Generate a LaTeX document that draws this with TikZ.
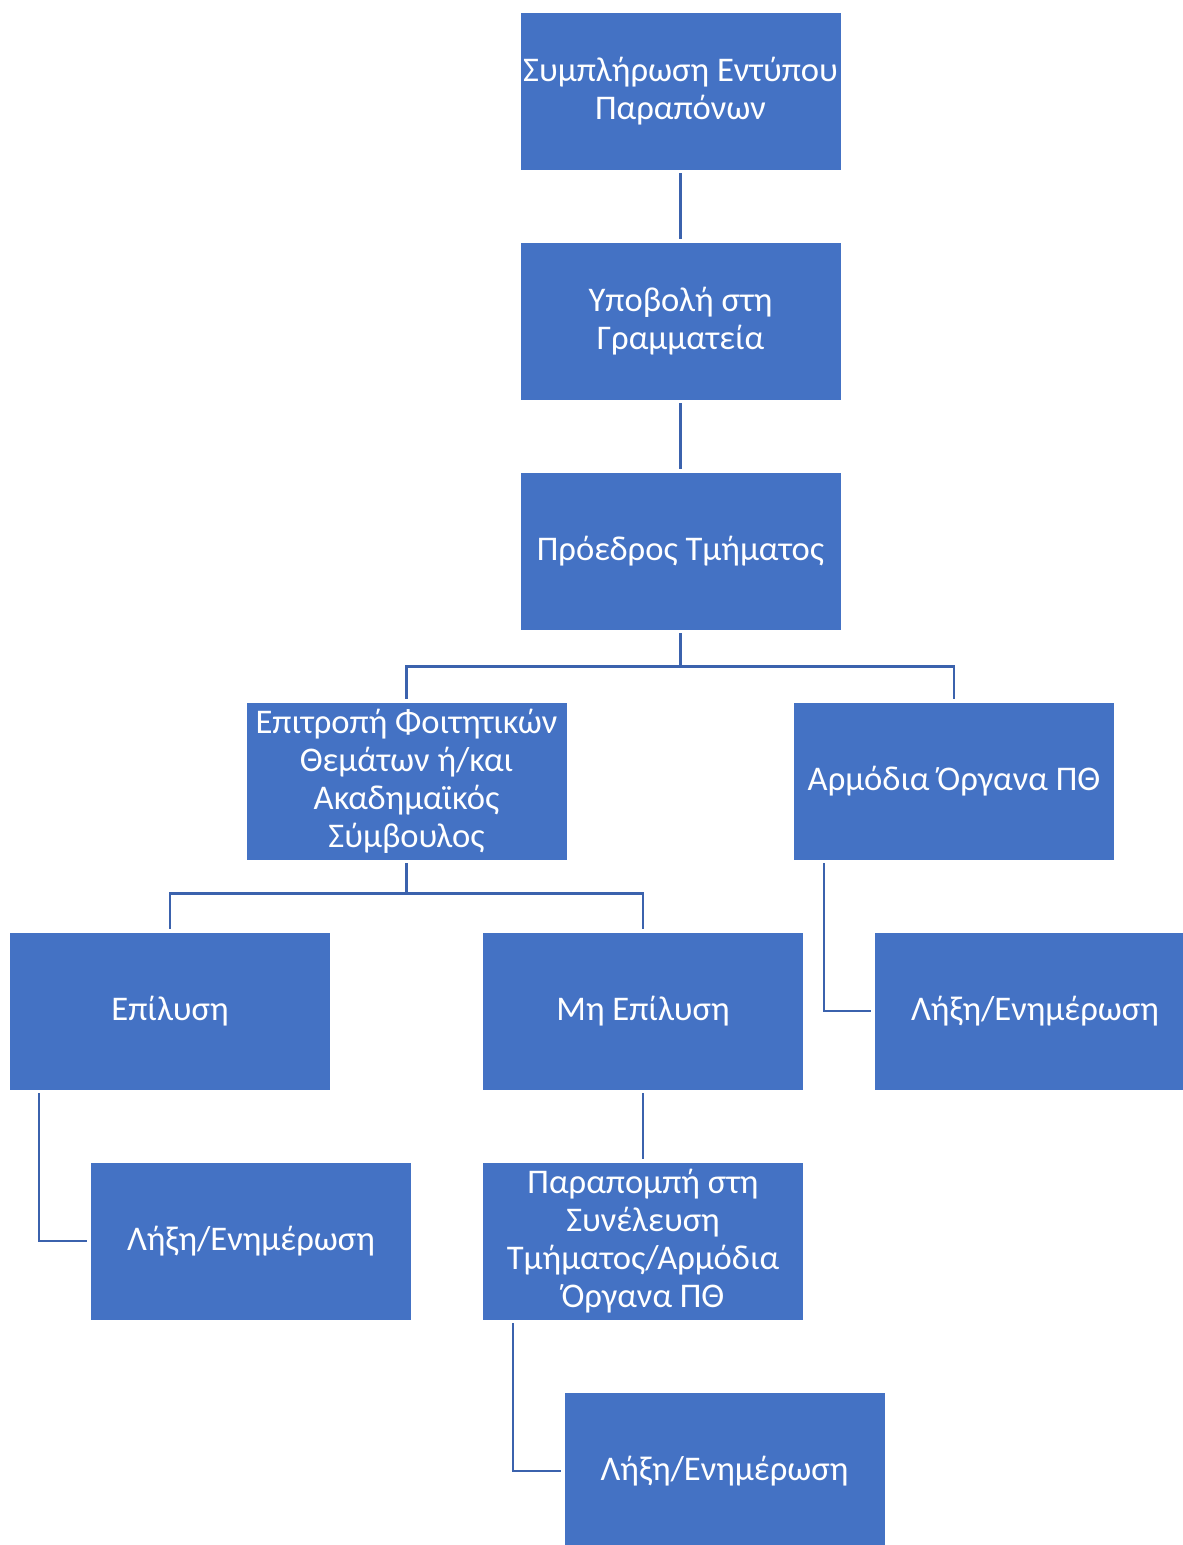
\documentclass[tikz,border=0pt]{standalone}
\usepackage{fontspec}
\setmainfont{Carlito}
\usetikzlibrary{calc}
\definecolor{boxblue}{HTML}{4472C4}
\definecolor{linkblue}{HTML}{3B62AD}
\tikzset{
  stepbox/.style={draw=white, line width=0.4pt, fill=boxblue, text=white,
    minimum width=160.5pt, minimum height=79pt, inner sep=0pt, align=center,
    font=\fontsize{17.3}{19}\selectfont},
  link/.style={draw=linkblue, line width=1.3pt, shorten <=1.5pt, shorten >=1.5pt}
}
\begin{document}
\begin{tikzpicture}[x=0.5pt,y=-0.5pt]
    \useasboundingbox (0,0) rectangle (1182,1545);
    \node[stepbox] (form) at (680.5,91)
      {Συμπλήρωση Εντύπου\\Παραπόνων};
    \node[stepbox] (submit) at (680.5,321)
      {Υποβολή στη\\Γραμματεία};
    \node[stepbox] (head) at (680.5,551)
      {Πρόεδρος Τμήματος};
    \node[stepbox] (comm) at (406.5,781)
      {Επιτροπή Φοιτητικών\\Θεμάτων ή/και\\Ακαδημαϊκός\\Σύμβουλος};
    \node[stepbox] (organs) at (954,781)
      {Αρμόδια Όργανα ΠΘ};
    \node[stepbox] (solved) at (170,1011)
      {Επίλυση};
    \node[stepbox] (unsolved) at (643,1011)
      {Μη Επίλυση};
    \node[stepbox] (endA) at (1035,1011)
      {Λήξη/Ενημέρωση};
    \node[stepbox] (endB) at (251,1241)
      {Λήξη/Ενημέρωση};
    \node[stepbox] (refer) at (643,1241)
      {Παραπομπή στη\\Συνέλευση\\Τμήματος/Αρμόδια\\Όργανα ΠΘ};
    \node[stepbox] (endC) at (724.5,1471)
      {Λήξη/Ενημέρωση};

    \draw[link] (form) -- (submit);
    \draw[link] (submit) -- (head);
    \draw[link] (head.south) -- ++(0,36) -| (comm.north);
    \draw[link] (head.south) -- ++(0,36) -| (organs.north);
    \draw[link] (comm.south) -- ++(0,33) -| (solved.north);
    \draw[link] (comm.south) -- ++(0,33) -| (unsolved.north);
    \draw[link] ($(organs.south west)+(31,0)$) |- (endA.west);
    \draw[link] ($(solved.south west)+(30,0)$) |- (endB.west);
    \draw[link] (unsolved) -- (refer);
    \draw[link] ($(refer.south west)+(31,0)$) |- (endC.west);
  \end{tikzpicture}
\end{document}
